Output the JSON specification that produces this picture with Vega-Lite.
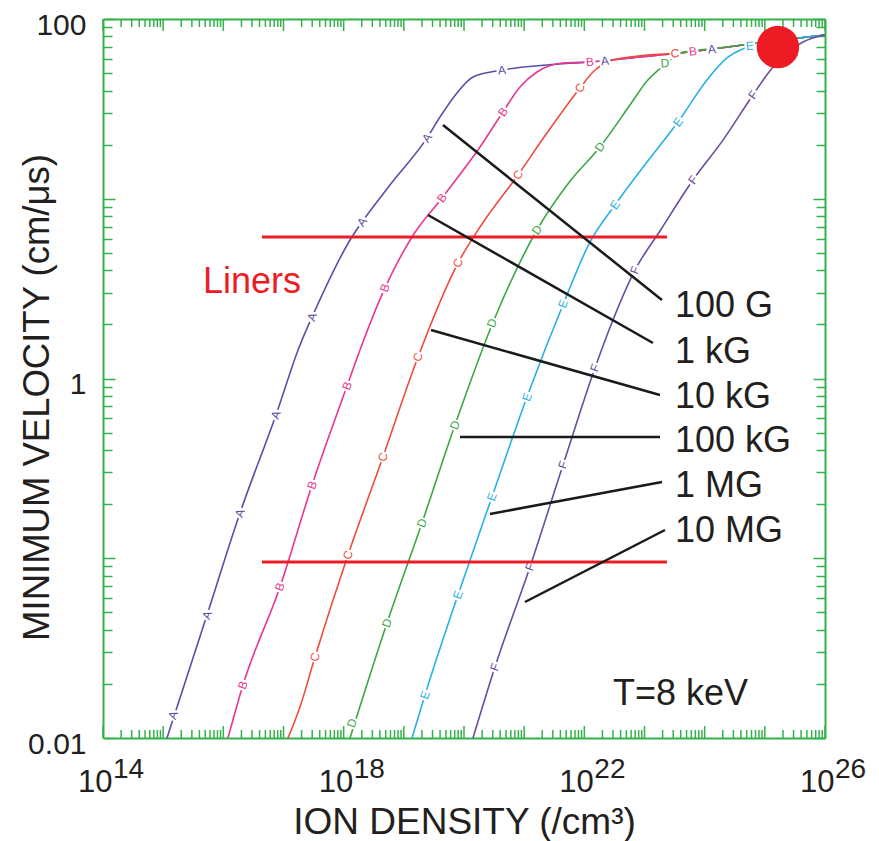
{
  "$schema": "https://vega.github.io/schema/vega-lite/v6.json",
  "width": 722,
  "height": 719,
  "autosize": {"type": "none"},
  "padding": {"left": 103, "top": 19, "right": 54, "bottom": 103},
  "background": "white",
  "config": {
    "view": {"stroke": null},
    "text": {"font": "Liberation Sans"},
    "axis": {"labelFont": "Liberation Sans", "titleFont": "Liberation Sans", "labelColor": "#231f20", "titleColor": "#231f20", "titleFontWeight": "normal", "grid": false, "tickColor": "#33b24a", "tickWidth": 1.5, "domainColor": "#33b24a", "domainWidth": 2}
  },
  "datasets": {
    "curves": [
      {"s":"A","x":1.158e15,"y":0.01},{"s":"A","x":5.35e15,"y":0.0483},{"s":"A","x":1.89e16,"y":0.1785},{"s":"A","x":7.5e16,"y":0.627},{"s":"A","x":1.88e17,"y":1.536},{"s":"A","x":3.09e17,"y":2.256},{"s":"A","x":1.37e18,"y":6.13},{"s":"A","x":2.02e18,"y":7.43},{"s":"A","x":5.89e18,"y":11.93},{"s":"A","x":2.43e19,"y":21.8},{"s":"A","x":3.99e19,"y":28.5},{"s":"A","x":7.64e19,"y":38.8},{"s":"A","x":1.41e20,"y":47.6},{"s":"A","x":4.28e20,"y":52.0},{"s":"A","x":2.39e21,"y":55.5},{"s":"A","x":1.24e22,"y":57.7},{"s":"A","x":8.41e22,"y":61.5},{"s":"A","x":3.89e23,"y":64.7},{"s":"A","x":1.8e24,"y":69.0},{"s":"A","x":7.4e24,"y":73.5},{"s":"A","x":2.62e25,"y":77.4},{"s":"A","x":1e26,"y":81.5},
      {"s":"B","x":1.195e16,"y":0.01},{"s":"B","x":2.12e16,"y":0.0197},{"s":"B","x":8.74e16,"y":0.0692},{"s":"B","x":2.98e17,"y":0.2555},{"s":"B","x":1.136e18,"y":0.9085},{"s":"B","x":1.867e18,"y":1.441},{"s":"B","x":4.86e18,"y":3.19},{"s":"B","x":1.366e19,"y":6.13},{"s":"B","x":4.31e19,"y":10.1},{"s":"B","x":1.844e20,"y":19.4},{"s":"B","x":4.44e20,"y":30.4},{"s":"B","x":8.51e20,"y":41.85},{"s":"B","x":1.633e21,"y":50.7},{"s":"B","x":4.42e21,"y":56.9},{"s":"B","x":1.24e22,"y":57.7},{"s":"B","x":8.41e22,"y":61.5},{"s":"B","x":3.89e23,"y":64.7},{"s":"B","x":1.8e24,"y":69.0},{"s":"B","x":7.4e24,"y":73.5},{"s":"B","x":2.62e25,"y":77.4},{"s":"B","x":1e26,"y":81.5},
      {"s":"C","x":1.188e17,"y":0.01},{"s":"C","x":1.879e17,"y":0.01488},{"s":"C","x":3.337e17,"y":0.0282},{"s":"C","x":1.18e18,"y":0.1042},{"s":"C","x":4.5e18,"y":0.366},{"s":"C","x":1.719e19,"y":1.317},{"s":"C","x":7.94e19,"y":4.39},{"s":"C","x":1.844e20,"y":6.96},{"s":"C","x":7.89e20,"y":13.56},{"s":"C","x":2.39e21,"y":23.2},{"s":"C","x":8.46e21,"y":41.3},{"s":"C","x":1.392e22,"y":50.7},{"s":"C","x":2.99e22,"y":59.1},{"s":"C","x":1.099e23,"y":63.0},{"s":"C","x":3.89e23,"y":64.7},{"s":"C","x":1.8e24,"y":69.0},{"s":"C","x":7.4e24,"y":73.5},{"s":"C","x":2.62e25,"y":77.4},{"s":"C","x":1e26,"y":81.5},
      {"s":"D","x":1.274e18,"y":0.01},{"s":"D","x":5.25e18,"y":0.0436},{"s":"D","x":2.003e19,"y":0.1571},{"s":"D","x":7.08e19,"y":0.551},{"s":"D","x":3.15e20,"y":2.116},{"s":"D","x":1.633e21,"y":6.7},{"s":"D","x":5.77e21,"y":12.5},{"s":"D","x":1.82e22,"y":19.4},{"s":"D","x":5.73e22,"y":33.2},{"s":"D","x":1.099e23,"y":45.2},{"s":"D","x":2.363e23,"y":56.9},{"s":"D","x":3.89e23,"y":64.7},{"s":"D","x":1.8e24,"y":69.0},{"s":"D","x":7.4e24,"y":73.5},{"s":"D","x":2.62e25,"y":77.4},{"s":"D","x":1e26,"y":81.5},
      {"s":"E","x":1.366e19,"y":0.01},{"s":"E","x":2.247e19,"y":0.01734},{"s":"E","x":7.94e19,"y":0.0625},{"s":"E","x":2.917e20,"y":0.2192},{"s":"E","x":1.114e21,"y":0.789},{"s":"E","x":4.76e21,"y":2.733},{"s":"E","x":1.242e22,"y":5.75},{"s":"E","x":3.23e22,"y":9.23},{"s":"E","x":1.099e23,"y":16.0},{"s":"E","x":3.6e23,"y":26.7},{"s":"E","x":1.091e24,"y":45.8},{"s":"E","x":2.348e24,"y":60.7},{"s":"E","x":5.66e24,"y":70.8},{"s":"E","x":7.4e24,"y":73.5},{"s":"E","x":2.62e25,"y":77.4},{"s":"E","x":1e26,"y":81.5},
      {"s":"F","x":1.41e20,"y":0.01},{"s":"F","x":3.27e20,"y":0.0248},{"s":"F","x":1.249e21,"y":0.0894},{"s":"F","x":4.42e21,"y":0.33},{"s":"F","x":1.503e22,"y":1.144},{"s":"F","x":2.99e22,"y":2.116},{"s":"F","x":6.94e22,"y":4.01},{"s":"F","x":1.807e23,"y":6.62},{"s":"F","x":6.39e23,"y":12.72},{"s":"F","x":2.014e24,"y":21.2},{"s":"F","x":6.35e24,"y":37.8},{"s":"F","x":1.365e25,"y":54.1},{"s":"F","x":4.3e25,"y":74.5},{"s":"F","x":1e26,"y":81.5}
    ],
    "letters": [
      {"s":"A","x":1.457e15,"y":0.01342},{"s":"A","x":5.35e15,"y":0.0483},{"s":"A","x":1.89e16,"y":0.1785},{"s":"A","x":7.5e16,"y":0.627},{"s":"A","x":2.98e17,"y":2.2},{"s":"A","x":2.02e18,"y":7.43},{"s":"A","x":2.43e19,"y":21.8},{"s":"A","x":4.28e20,"y":52.0},{"s":"A","x":2.2e22,"y":58.5},{"s":"A","x":1.32e24,"y":68.0},
      {"s":"B","x":2.12e16,"y":0.0197},{"s":"B","x":8.74e16,"y":0.0692},{"s":"B","x":2.98e17,"y":0.2555},{"s":"B","x":1.136e18,"y":0.9085},{"s":"B","x":4.86e18,"y":3.19},{"s":"B","x":4.31e19,"y":10.1},{"s":"B","x":4.44e20,"y":30.4},{"s":"B","x":1.24e22,"y":57.7},{"s":"B","x":6.39e23,"y":66.0},
      {"s":"C","x":3.337e17,"y":0.0282},{"s":"C","x":1.18e18,"y":0.1042},{"s":"C","x":4.5e18,"y":0.366},{"s":"C","x":1.719e19,"y":1.317},{"s":"C","x":7.94e19,"y":4.39},{"s":"C","x":7.89e20,"y":13.56},{"s":"C","x":8.46e21,"y":41.3},{"s":"C","x":3.21e23,"y":64.3},
      {"s":"D","x":1.374e18,"y":0.01212},{"s":"D","x":5.25e18,"y":0.0436},{"s":"D","x":2.003e19,"y":0.1571},{"s":"D","x":7.08e19,"y":0.551},{"s":"D","x":2.92e20,"y":2.036},{"s":"D","x":1.633e21,"y":6.7},{"s":"D","x":1.82e22,"y":19.4},{"s":"D","x":2.19e23,"y":56.9},
      {"s":"E","x":2.247e19,"y":0.01734},{"s":"E","x":7.94e19,"y":0.0625},{"s":"E","x":2.917e20,"y":0.2192},{"s":"E","x":1.114e21,"y":0.789},{"s":"E","x":4.42e21,"y":2.6},{"s":"E","x":3.23e22,"y":9.23},{"s":"E","x":3.6e23,"y":26.7},{"s":"E","x":5.66e24,"y":70.8},
      {"s":"F","x":3.27e20,"y":0.0248},{"s":"F","x":1.249e21,"y":0.0894},{"s":"F","x":4.42e21,"y":0.33},{"s":"F","x":1.503e22,"y":1.144},{"s":"F","x":6.94e22,"y":4.01},{"s":"F","x":6.39e23,"y":12.72},{"s":"F","x":6.35e24,"y":37.8}
    ],
    "liners": [
      {"x1":4.39e16,"x2":2.36e23,"y":6.13},
      {"x1":4.39e16,"x2":2.36e23,"y":0.0953}
    ],
    "leaders": [
      {"label":"100 G","x1":4.47e19,"y1":25.7,"x2":1.95e23,"y2":2.73,"tx":3.21e23,"ty":2.198},
      {"label":"1 kG","x1":2.52e19,"y1":8.12,"x2":1.383e23,"y2":1.576,"tx":3.21e23,"ty":1.22},
      {"label":"10 kG","x1":2.83e19,"y1":1.861,"x2":1.807e23,"y2":0.809,"tx":3.21e23,"ty":0.6853},
      {"label":"100 kG","x1":8.58e19,"y1":0.4726,"x2":1.807e23,"y2":0.4726,"tx":3.21e23,"ty":0.3901},
      {"label":"1 MG","x1":2.7e20,"y1":0.1763,"x2":1.95e23,"y2":0.2656,"tx":3.21e23,"ty":0.2192},
      {"label":"10 MG","x1":1.031e21,"y1":0.05709,"x2":2.19e23,"y2":0.1436,"tx":3.21e23,"ty":0.1231}
    ],
    "xexp": [
      {"x":1e14,"e":"14"},{"x":1e18,"e":"18"},{"x":1e22,"e":"22"},{"x":1e26,"e":"26"}
    ],
    "xminor": [
      {"v":2e14},{"v":3e14},{"v":4e14},{"v":5e14},{"v":6e14},{"v":7e14},{"v":8e14},{"v":9e14},
      {"v":2e15},{"v":3e15},{"v":4e15},{"v":5e15},{"v":6e15},{"v":7e15},{"v":8e15},{"v":9e15},
      {"v":2e16},{"v":3e16},{"v":4e16},{"v":5e16},{"v":6e16},{"v":7e16},{"v":8e16},{"v":9e16},
      {"v":2e17},{"v":3e17},{"v":4e17},{"v":5e17},{"v":6e17},{"v":7e17},{"v":8e17},{"v":9e17},
      {"v":2e18},{"v":3e18},{"v":4e18},{"v":5e18},{"v":6e18},{"v":7e18},{"v":8e18},{"v":9e18},
      {"v":2e19},{"v":3e19},{"v":4e19},{"v":5e19},{"v":6e19},{"v":7e19},{"v":8e19},{"v":9e19},
      {"v":2e20},{"v":3e20},{"v":4e20},{"v":5e20},{"v":6e20},{"v":7e20},{"v":8e20},{"v":9e20},
      {"v":2e21},{"v":3e21},{"v":4e21},{"v":5e21},{"v":6e21},{"v":7e21},{"v":8e21},{"v":9e21},
      {"v":2e22},{"v":3e22},{"v":4e22},{"v":5e22},{"v":6e22},{"v":7e22},{"v":8e22},{"v":9e22},
      {"v":2e23},{"v":3e23},{"v":4e23},{"v":5e23},{"v":6e23},{"v":7e23},{"v":8e23},{"v":9e23},
      {"v":2e24},{"v":3e24},{"v":4e24},{"v":5e24},{"v":6e24},{"v":7e24},{"v":8e24},{"v":9e24},
      {"v":2e25},{"v":3e25},{"v":4e25},{"v":5e25},{"v":6e25},{"v":7e25},{"v":8e25},{"v":9e25}
    ],
    "xmajor": [
      {"v":1e14},{"v":1e15},{"v":1e16},{"v":1e17},{"v":1e18},{"v":1e19},{"v":1e20},{"v":1e21},{"v":1e22},{"v":1e23},{"v":1e24},{"v":1e25},{"v":1e26}
    ]
  },
  "resolve": {"axis": {"x": "independent", "y": "independent"}},
  "layer": [
    {
      "data": {"name": "curves"},
      "mark": {"type": "line", "interpolate": "monotone", "strokeWidth": 1.6},
      "encoding": {
        "x": {"field": "x", "type": "quantitative", "scale": {"type": "log", "domain": [1e14, 1e26], "nice": false},
          "axis": {"orient": "bottom", "values": [1e14, 1e18, 1e22, 1e26], "ticks": false, "tickSize": 0, "labelFlush": false, "labelOverlap": false,
            "labelExpr": "'10'", "labelAlign": "right", "labelOffset": 9, "labelBaseline": "alphabetic", "labelPadding": 53, "labelFontSize": 31,
            "title": "ION DENSITY (/cm³)", "titleFontSize": 37, "titleX": 361, "titleY": 95, "titleBaseline": "alphabetic", "titleAlign": "center"}},
        "y": {"field": "y", "type": "quantitative", "scale": {"type": "log", "domain": [0.01, 100], "nice": false},
          "axis": {"orient": "left", "values": [0.01, 1, 100], "ticks": false, "tickSize": 0, "labelFlush": false, "labelOverlap": false,
            "labelExpr": "datum.value >= 99 ? '100' : datum.value >= 0.99 ? '1' : '0.01'",
            "labelAlign": "right", "labelBaseline": "middle", "labelPadding": 17, "labelOffset": 6, "labelFontSize": 30,
            "title": "MINIMUM VELOCITY (cm/μs)", "titleFontSize": 36.5, "titleX": -55, "titleY": 378, "titleAngle": 270, "titleBaseline": "alphabetic", "titleAlign": "center"}},
        "color": {"field": "s", "type": "nominal", "legend": null,
          "scale": {"domain": ["A","B","C","D","E","F"], "range": ["#5b4ea8","#e8378f","#ef4b3c","#3aa845","#27b1e6","#6a4c9c"]}}
      }
    },
    {
      "data": {"name": "xminor"},
      "mark": {"type": "tick", "orient": "vertical", "color": "#33b24a", "thickness": 1.5, "size": 8, "opacity": 1},
      "encoding": {
        "x": {"field": "v", "type": "quantitative", "scale": {"type": "log", "domain": [1e14, 1e26], "nice": false}, "axis": null},
        "y": {"datum": 0.010526, "type": "quantitative", "scale": {"type": "log", "domain": [0.01, 100], "nice": false}, "axis": null}
      }
    },
    {
      "data": {"name": "xmajor"},
      "mark": {"type": "tick", "orient": "vertical", "color": "#33b24a", "thickness": 1.5, "size": 12, "opacity": 1},
      "encoding": {
        "x": {"field": "v", "type": "quantitative", "scale": {"type": "log", "domain": [1e14, 1e26], "nice": false}, "axis": null},
        "y": {"datum": 0.010799, "type": "quantitative", "scale": {"type": "log", "domain": [0.01, 100], "nice": false}, "axis": null}
      }
    },
    {
      "data": {"name": "xminor"},
      "mark": {"type": "tick", "orient": "vertical", "color": "#33b24a", "thickness": 1.5, "size": 8, "opacity": 1},
      "encoding": {
        "x": {"field": "v", "type": "quantitative", "scale": {"type": "log", "domain": [1e14, 1e26], "nice": false}, "axis": null},
        "y": {"datum": 95.0, "type": "quantitative", "scale": {"type": "log", "domain": [0.01, 100], "nice": false}, "axis": null}
      }
    },
    {
      "data": {"name": "xmajor"},
      "mark": {"type": "tick", "orient": "vertical", "color": "#33b24a", "thickness": 1.5, "size": 12, "opacity": 1},
      "encoding": {
        "x": {"field": "v", "type": "quantitative", "scale": {"type": "log", "domain": [1e14, 1e26], "nice": false}, "axis": null},
        "y": {"datum": 92.6, "type": "quantitative", "scale": {"type": "log", "domain": [0.01, 100], "nice": false}, "axis": null}
      }
    },
    {
      "data": {"name": "letters"},
      "mark": {"type": "point", "shape": "square", "filled": true, "size": 120, "opacity": 1},
      "encoding": {
        "x": {"field": "x", "type": "quantitative", "scale": {"type": "log", "domain": [1e14, 1e26], "nice": false}, "axis": null},
        "y": {"field": "y", "type": "quantitative", "scale": {"type": "log", "domain": [0.01, 100], "nice": false},
          "axis": {"orient": "left", "values": [0.02,0.03,0.04,0.05,0.06,0.07,0.08,0.09,0.2,0.3,0.4,0.5,0.6,0.7,0.8,0.9,2,3,4,5,6,7,8,9,20,30,40,50,60,70,80,90],
            "labels": false, "domain": false, "title": null, "tickSize": -9, "tickCount": 100}},
        "color": {"value": "white"},
        "angle": {"condition": [{"test": "datum.y > 45", "value": 355}, {"test": "datum.y > 6", "value": 305}], "value": 290}
      }
    },
    {
      "data": {"name": "letters"},
      "mark": {"type": "text", "fontSize": 12, "align": "center", "baseline": "middle"},
      "encoding": {
        "x": {"field": "x", "type": "quantitative", "scale": {"type": "log", "domain": [1e14, 1e26], "nice": false}, "axis": null},
        "y": {"field": "y", "type": "quantitative", "scale": {"type": "log", "domain": [0.01, 100], "nice": false},
          "axis": {"orient": "left", "values": [0.01, 0.1, 1, 10, 100],
            "labels": false, "domain": false, "title": null, "tickSize": -12}},
        "text": {"field": "s"},
        "color": {"field": "s", "type": "nominal", "legend": null,
          "scale": {"domain": ["A","B","C","D","E","F"], "range": ["#5b4ea8","#e8378f","#ef4b3c","#3aa845","#27b1e6","#6a4c9c"]}},
        "angle": {"condition": [{"test": "datum.y > 45", "value": 355}, {"test": "datum.y > 6", "value": 305}], "value": 290}
      }
    },
    {
      "data": {"name": "liners"},
      "mark": {"type": "rule", "color": "#ed1c24", "strokeWidth": 3},
      "encoding": {
        "x": {"field": "x1", "type": "quantitative", "scale": {"type": "log", "domain": [1e14, 1e26], "nice": false}, "axis": null},
        "x2": {"field": "x2"},
        "y": {"field": "y", "type": "quantitative", "scale": {"type": "log", "domain": [0.01, 100], "nice": false},
          "axis": {"orient": "right", "values": [0.02,0.03,0.04,0.05,0.06,0.07,0.08,0.09,0.2,0.3,0.4,0.5,0.6,0.7,0.8,0.9,2,3,4,5,6,7,8,9,20,30,40,50,60,70,80,90],
            "labels": false, "domain": false, "title": null, "tickSize": -9, "tickCount": 100}}
      }
    },
    {
      "data": {"values": [{"x": 2.99e16, "y": 2.99, "t": "Liners"}]},
      "mark": {"type": "text", "fontSize": 36, "color": "#ed1c24", "align": "center", "baseline": "alphabetic"},
      "encoding": {
        "x": {"field": "x", "type": "quantitative", "scale": {"type": "log", "domain": [1e14, 1e26], "nice": false},
          "axis": {"orient": "top", "values": [1e14, 1e26], "ticks": false, "labels": false, "title": null, "domain": true}},
        "y": {"field": "y", "type": "quantitative", "scale": {"type": "log", "domain": [0.01, 100], "nice": false}, "axis": null},
        "text": {"field": "t"}
      }
    },
    {
      "data": {"name": "leaders"},
      "mark": {"type": "rule", "color": "#1a1a1a", "strokeWidth": 2.5},
      "encoding": {
        "x": {"field": "x1", "type": "quantitative", "scale": {"type": "log", "domain": [1e14, 1e26], "nice": false}, "axis": null},
        "x2": {"field": "x2"},
        "y": {"field": "y1", "type": "quantitative", "scale": {"type": "log", "domain": [0.01, 100], "nice": false}, "axis": null},
        "y2": {"field": "y2"}
      }
    },
    {
      "data": {"name": "leaders"},
      "mark": {"type": "text", "fontSize": 36, "color": "#231f20", "align": "left", "baseline": "alphabetic"},
      "encoding": {
        "x": {"field": "tx", "type": "quantitative", "scale": {"type": "log", "domain": [1e14, 1e26], "nice": false}, "axis": null},
        "y": {"field": "ty", "type": "quantitative", "scale": {"type": "log", "domain": [0.01, 100], "nice": false}, "axis": null},
        "text": {"field": "label"}
      }
    },
    {
      "data": {"values": [{"x": 2.99e22, "y": 0.01526, "t": "T=8 keV"}]},
      "mark": {"type": "text", "fontSize": 36, "color": "#231f20", "align": "left", "baseline": "alphabetic"},
      "encoding": {
        "x": {"field": "x", "type": "quantitative", "scale": {"type": "log", "domain": [1e14, 1e26], "nice": false}, "axis": null},
        "y": {"field": "y", "type": "quantitative", "scale": {"type": "log", "domain": [0.01, 100], "nice": false}, "axis": null},
        "text": {"field": "t"}
      }
    },
    {
      "data": {"name": "xexp"},
      "mark": {"type": "text", "fontSize": 28, "color": "#231f20", "align": "left", "baseline": "alphabetic", "dx": 10, "dy": 40},
      "encoding": {
        "x": {"field": "x", "type": "quantitative", "scale": {"type": "log", "domain": [1e14, 1e26], "nice": false}, "axis": null},
        "y": {"datum": 0.01, "type": "quantitative", "scale": {"type": "log", "domain": [0.01, 100], "nice": false}, "axis": null},
        "text": {"field": "e"}
      }
    },
    {
      "data": {"values": [{"x": 1.65e25, "y": 69.8}]},
      "mark": {"type": "point", "shape": "circle", "filled": true, "size": 1810, "color": "#ed1c24", "opacity": 1},
      "encoding": {
        "x": {"field": "x", "type": "quantitative", "scale": {"type": "log", "domain": [1e14, 1e26], "nice": false}, "axis": null},
        "y": {"field": "y", "type": "quantitative", "scale": {"type": "log", "domain": [0.01, 100], "nice": false},
          "axis": {"orient": "right", "values": [0.01, 0.1, 1, 10, 100],
            "labels": false, "title": null, "tickSize": -12}}
      }
    }
  ]
}
